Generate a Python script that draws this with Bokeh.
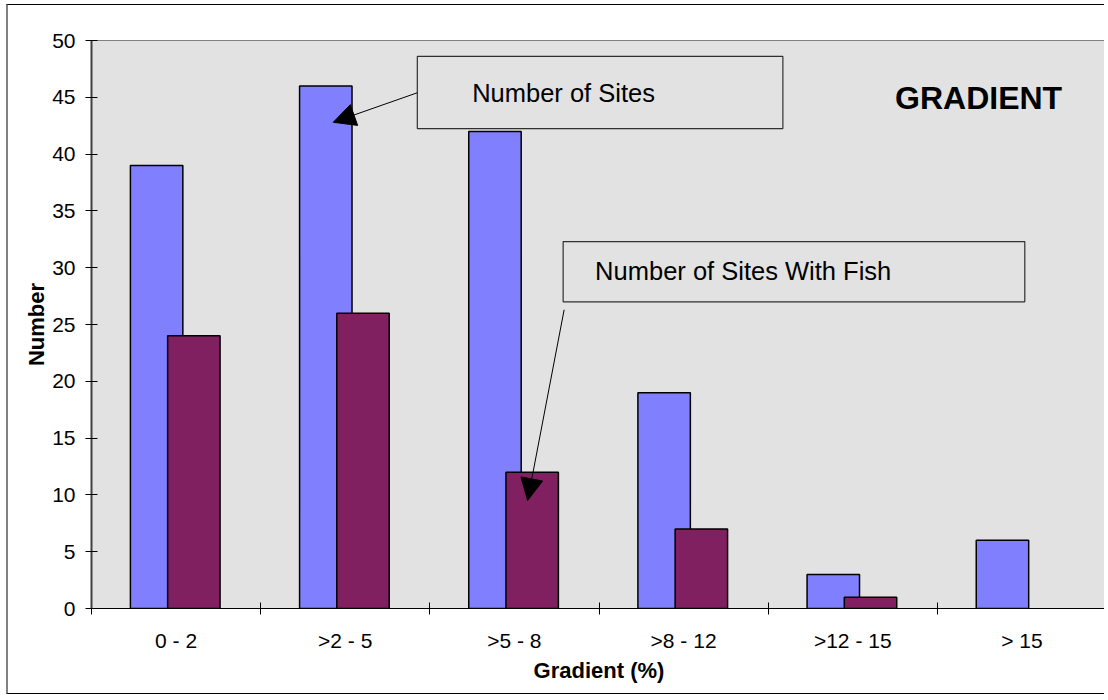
from bokeh.plotting import figure
from bokeh.models import (Range1d, FixedTicker, ColumnDataSource, BoxAnnotation,
                          Label, Arrow, NormalHead, CDSView, BooleanFilter)
from bokeh.transform import dodge
from bokeh.embed import file_html
from bokeh.resources import INLINE

# ---- data ----
categories = ["0 - 2", ">2 - 5", ">5 - 8", ">8 - 12", ">12 - 15", "> 15"]
sites = [39, 46, 42, 19, 3, 6]
sites_with_fish = [24, 26, 12, 7, 1, 0]
y_ticks = [0, 5, 10, 15, 20, 25, 30, 35, 40, 45, 50]

FONT = "Liberation Sans"
n = len(categories)
x_centers = [i + 0.5 for i in range(n)]
src = ColumnDataSource(dict(x=x_centers, sites=sites, fish=sites_with_fish))

p = figure(width=1098, height=690, output_backend="svg", toolbar_location=None,
           x_range=Range1d(0, n), y_range=Range1d(0, 50),
           min_border_left=83, min_border_top=35, min_border_right=0,
           min_border_bottom=87)
p.styles = {"border-top": "1px solid #000000", "border-left": "2px solid #808080",
            "border-bottom": "1px solid #000000", "margin-left": "6px",
            "margin-top": "4px"}
p.background_fill_color = "#E2E2E2"
p.border_fill_color = "white"
p.outline_line_color = "#808080"
p.outline_line_width = 1
p.xgrid.visible = False
p.ygrid.visible = False

# bars
p.vbar(x=dodge("x", -0.115), top="sites", width=0.31, source=src,
       fill_color="#8080FF", line_color="black", line_width=1.5)
p.vbar(x=dodge("x", 0.105), top="fish", width=0.31, source=src,
       view=CDSView(filter=BooleanFilter([v > 0 for v in sites_with_fish])),
       fill_color="#802060", line_color="black", line_width=1.5)

# x axis: labels at centres, ticks at boundaries
xa = p.xaxis[0]
xa.ticker = FixedTicker(ticks=x_centers, minor_ticks=list(range(n + 1)))
xa.major_label_overrides = {c: lab for c, lab in zip(x_centers, categories)}
xa.major_tick_in = 0
xa.major_tick_out = 0
xa.minor_tick_in = 6
xa.minor_tick_out = 6
xa.minor_tick_line_color = "black"
xa.axis_line_color = "black"
xa.major_label_text_font = FONT
xa.major_label_text_font_size = "21px"
xa.major_label_text_color = "black"
xa.major_label_standoff = 14
xa.axis_label = "Gradient (%)"
xa.axis_label_text_font = FONT
xa.axis_label_text_font_style = "bold"
xa.axis_label_text_font_size = "22px"
xa.axis_label_text_color = "black"
xa.axis_label_standoff = 3

ya = p.yaxis[0]
ya.ticker = FixedTicker(ticks=y_ticks, minor_ticks=[])
ya.major_tick_in = 6
ya.major_tick_out = 6
ya.major_tick_line_color = "black"
ya.axis_line_color = "#404040"
ya.axis_line_width = 2
ya.major_label_text_font = FONT
ya.major_label_text_font_size = "21px"
ya.major_label_text_color = "black"
ya.major_label_standoff = 10
ya.axis_label = "Number"
ya.axis_label_text_font = FONT
ya.axis_label_text_font_style = "bold"
ya.axis_label_text_font_size = "22px"
ya.axis_label_text_color = "black"
ya.axis_label_standoff = 0

# callout 1
p.add_layout(BoxAnnotation(left=1.926, right=4.087, bottom=42.25, top=48.6,
                           fill_color="#E2E2E2", fill_alpha=1.0,
                           line_color="#303030", line_width=1.2, line_alpha=1.0))
p.add_layout(Label(x=2.25, y=45.4, text="Number of Sites", text_font=FONT,
                   text_font_size="25.5px", text_baseline="middle",
                   text_color="black"))
p.add_layout(Arrow(end=NormalHead(size=22, fill_color="black", line_color="black"),
                   x_start=1.926, y_start=45.4, x_end=1.429, y_end=42.8,
                   line_color="black", line_width=1))

# callout 2
p.add_layout(BoxAnnotation(left=2.788, right=5.517, bottom=27.0, top=32.3,
                           fill_color="#E2E2E2", fill_alpha=1.0,
                           line_color="#303030", line_width=1.2, line_alpha=1.0))
p.add_layout(Label(x=2.977, y=29.7, text="Number of Sites With Fish", text_font=FONT,
                   text_font_size="25.5px", text_baseline="middle",
                   text_color="black"))
p.add_layout(Arrow(end=NormalHead(size=22, fill_color="black", line_color="black"),
                   x_start=2.794, y_start=26.3, x_end=2.578, y_end=9.5,
                   line_color="black", line_width=1))

# title inside plot
p.add_layout(Label(x=4.75, y=44.9, text="GRADIENT", text_font=FONT,
                   text_font_size="32px", text_font_style="bold",
                   text_baseline="middle", text_color="black"))

open("out.html", "w").write(file_html(p, INLINE))
